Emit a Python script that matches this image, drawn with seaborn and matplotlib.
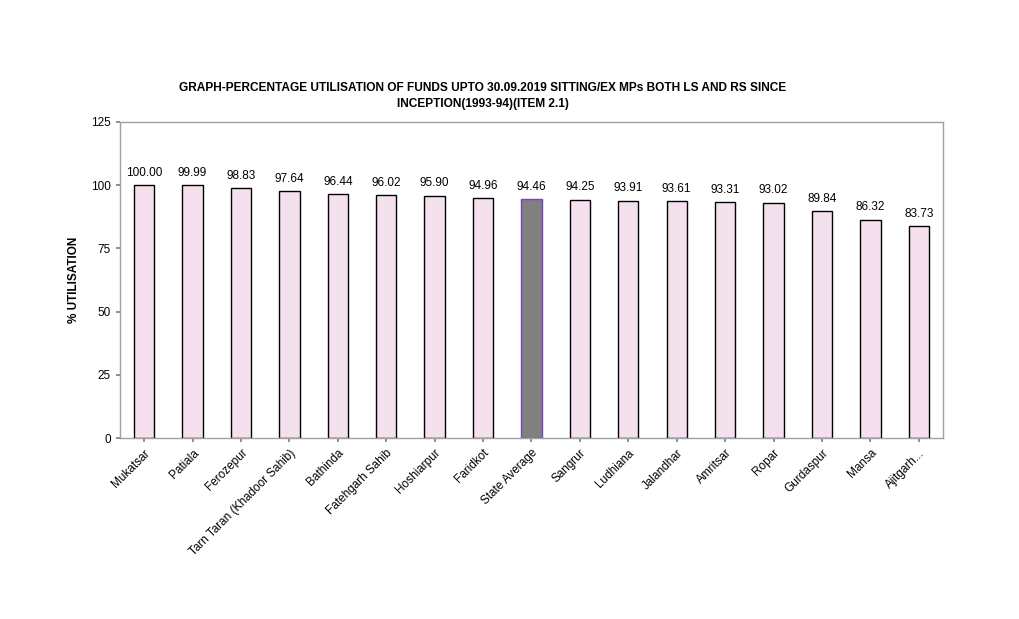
import seaborn as sns
import pandas as pd
import matplotlib.pyplot as plt

# data
districts = ['Mukatsar', 'Patiala', 'Ferozepur', 'Tarn Taran (Khadoor Sahib)', 'Bathinda',
             'Fatehgarh Sahib', 'Hoshiarpur', 'Faridkot', 'State Average', 'Sangrur',
             'Ludhiana', 'Jalandhar', 'Amritsar', 'Ropar', 'Gurdaspur', 'Mansa', 'Ajitgarh...']
utilisation = [100.00, 99.99, 98.83, 97.64, 96.44, 96.02, 95.90, 94.96, 94.46, 94.25,
               93.91, 93.61, 93.31, 93.02, 89.84, 86.32, 83.73]

df = pd.DataFrame({'district': districts, 'util': utilisation})

sns.set_theme(style='white')
plt.rcParams['font.family'] = ['Liberation Sans', 'DejaVu Sans']
plt.rcParams['text.color'] = 'black'
plt.rcParams['axes.labelcolor'] = 'black'

fig = plt.figure(figsize=(10.2, 6.19), dpi=100)
ax = fig.add_axes([0.1176, 0.2924, 0.8069, 0.5106])

colors = ['#808080' if d == 'State Average' else '#f5e1ee' for d in districts]
sns.barplot(data=df, x='district', y='util', hue='district', palette=colors,
            legend=False, width=0.42, ax=ax, saturation=1)

for patch, d in zip(ax.patches, districts):
    if d == 'State Average':
        patch.set_edgecolor('#7b3fbf')
    else:
        patch.set_edgecolor('black')
    patch.set_linewidth(1.0)

for i, v in enumerate(utilisation):
    ax.text(i, v + 2.5, f'{v:.2f}', ha='center', va='bottom', fontsize=8.5)

ax.set_ylim(0, 125)
ax.set_yticks([0, 25, 50, 75, 100, 125])
ax.set_xlim(-0.5, len(districts) - 0.5)
ax.tick_params(axis='y', labelsize=8.5, length=3, color='#808080', left=True, labelcolor='black')
ax.tick_params(axis='x', labelsize=8.5, length=3, color='#808080', bottom=True, labelcolor='black')
ax.set_xticks(range(len(districts)))
ax.set_xticklabels(districts, rotation=45, ha='right', rotation_mode='anchor')
ax.set_xlabel('')
ax.set_ylabel('% UTILISATION', fontsize=8.5, fontweight='bold', labelpad=8)
for s in ax.spines.values():
    s.set_color('#a0a0a0')
    s.set_linewidth(1)

fig.text(0.473, 0.845, 'GRAPH-PERCENTAGE UTILISATION OF FUNDS UPTO 30.09.2019 SITTING/EX MPs BOTH LS AND RS SINCE\nINCEPTION(1993-94)(ITEM 2.1)',
         ha='center', va='center', fontsize=8.6, fontweight='bold', linespacing=1.4)

fig.savefig('out.png', dpi=100)
